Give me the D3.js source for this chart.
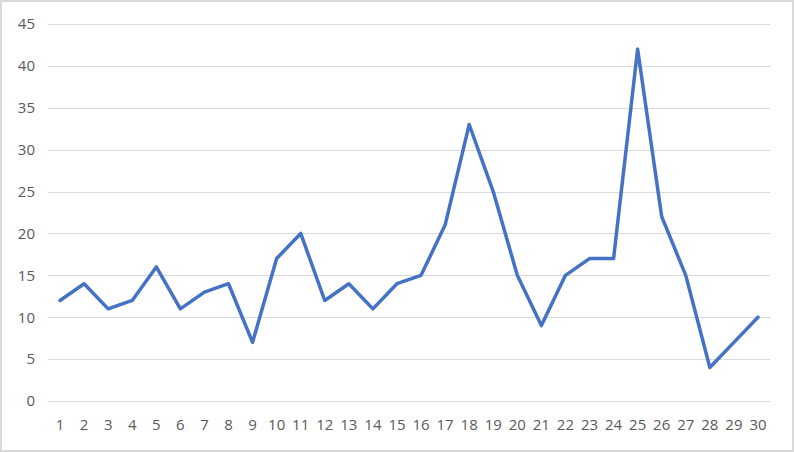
<!DOCTYPE html>
<html><head><meta charset="utf-8">
<script src="https://cdn.jsdelivr.net/npm/d3@7"></script>
<style>html,body{margin:0;padding:0;background:#fff;}svg{display:block;}</style>
</head><body>
<svg id="c" width="794" height="452"></svg>
<script>
const categories = ["1","2","3","4","5","6","7","8","9","10","11","12","13","14","15","16","17","18","19","20","21","22","23","24","25","26","27","28","29","30"];
const values = [12,14,11,12,16,11,13,14,7,17,20,12,14,11,14,15,21,33,25,15,9,15,17,17,42,22,15,4,7,10];
const yTicks = [0,5,10,15,20,25,30,35,40,45];

const svg = d3.select("#c");
const W = 794, H = 452;
const m = {left:48, right:24, top:24, bottom:51};

svg.append("rect").attr("x",1).attr("y",1).attr("width",W-2).attr("height",H-2)
  .attr("fill","#fff").attr("stroke","#d9d9d9").attr("stroke-width",2);

const x = d3.scaleBand().domain(categories).range([m.left, W-m.right]);
const y = d3.scaleLinear().domain([0,45]).range([H-m.bottom, m.top]);

const font = "'Open Sans', 'Liberation Sans', Arial, sans-serif";
const fs = "15px";

// gridlines
svg.append("g").selectAll("line").data(yTicks).join("line")
  .attr("x1", m.left).attr("x2", W-m.right)
  .attr("y1", d=>Math.round(y(d))+0.5).attr("y2", d=>Math.round(y(d))+0.5)
  .attr("stroke","#d9d9d9").attr("stroke-width",1);

// y axis labels
const yAxis = d3.axisLeft(y).tickValues(yTicks).tickSize(0).tickPadding(13);
const gy = svg.append("g").attr("transform",`translate(${m.left},0)`).call(yAxis);
gy.select(".domain").remove();
gy.selectAll("text").attr("fill","#595959").style("font-family",font).style("font-size",fs);

// x axis labels
const xAxis = d3.axisBottom(x).tickSize(0).tickPadding(18);
const gx = svg.append("g").attr("transform",`translate(0,${H-m.bottom})`).call(xAxis);
gx.select(".domain").remove();
gx.selectAll("text").attr("fill","#595959").style("font-family",font).style("font-size",fs);

// line
const line = d3.line().x((d,i)=>x(categories[i])+x.bandwidth()/2).y(d=>y(d));
svg.append("path").datum(values).attr("d",line)
  .attr("fill","none").attr("stroke","#4472c4").attr("stroke-width",3.5)
  .attr("stroke-linejoin","round").attr("stroke-linecap","round");
</script>
</body></html>
